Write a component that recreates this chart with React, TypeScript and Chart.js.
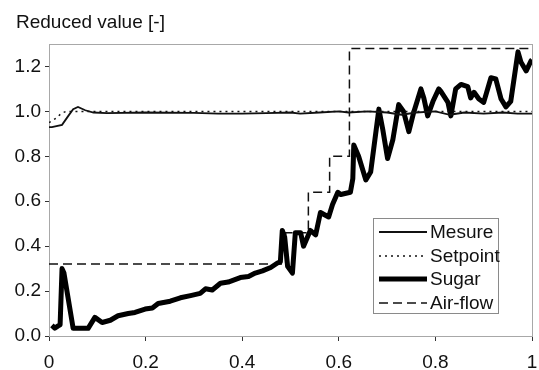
import React, { useEffect, useRef } from "react";
import { Chart, registerables } from "chart.js";

Chart.register(...registerables);

const titleText = "Reduced value [-]";
const legendLabels = ["Mesure", "Setpoint", "Sugar", "Air-flow"];

const sugarX = [0.006, 0.012, 0.019, 0.023, 0.027, 0.031, 0.05, 0.081, 0.095, 0.11, 0.127, 0.143, 0.164, 0.178, 0.199, 0.214, 0.226, 0.251, 0.272, 0.293, 0.313, 0.324, 0.338, 0.355, 0.371, 0.396, 0.413, 0.427, 0.442, 0.459, 0.473, 0.479, 0.483, 0.488, 0.494, 0.504, 0.51, 0.521, 0.527, 0.541, 0.552, 0.562, 0.579, 0.587, 0.598, 0.604, 0.624, 0.629, 0.631, 0.641, 0.656, 0.666, 0.683, 0.691, 0.701, 0.712, 0.724, 0.734, 0.745, 0.755, 0.77, 0.776, 0.784, 0.795, 0.807, 0.811, 0.826, 0.832, 0.842, 0.853, 0.867, 0.873, 0.88, 0.89, 0.9, 0.915, 0.925, 0.936, 0.946, 0.956, 0.971, 0.977, 0.988, 0.998, 1.0];
const sugarY = [0.047, 0.035, 0.045, 0.05, 0.3, 0.28, 0.034, 0.034, 0.083, 0.06, 0.07, 0.09, 0.1, 0.105, 0.12, 0.125, 0.145, 0.155, 0.17, 0.18, 0.19, 0.21, 0.205, 0.235, 0.24, 0.26, 0.265, 0.28, 0.29, 0.305, 0.325, 0.33, 0.47, 0.44, 0.31, 0.28, 0.46, 0.46, 0.4, 0.47, 0.45, 0.55, 0.53, 0.585, 0.64, 0.63, 0.64, 0.7, 0.85, 0.8, 0.695, 0.73, 1.01, 0.92, 0.79, 0.875, 1.03, 1.0, 0.91, 0.995, 1.1, 1.06, 0.98, 1.045, 1.1, 1.09, 1.04, 0.98, 1.1, 1.12, 1.11, 1.06, 1.085, 1.055, 1.04, 1.15, 1.145, 1.055, 1.02, 1.045, 1.265, 1.22, 1.18, 1.225, 1.23];

const mesureX = [0, 0.006, 0.027, 0.04, 0.05, 0.06, 0.075, 0.092, 0.12, 0.2, 0.3, 0.35, 0.4, 0.45, 0.5, 0.52, 0.56, 0.6, 0.62, 0.66, 0.7, 0.73, 0.76, 0.8, 0.83, 0.86, 0.9, 0.94, 0.97, 1.0];
const mesureY = [0.93, 0.93, 0.94, 0.98, 1.01, 1.02, 1.005, 0.995, 0.992, 0.995, 0.993, 0.99, 0.99, 0.992, 0.995, 0.99, 0.995, 1.0, 0.995, 1.0, 0.995, 0.985, 0.995, 1.0, 0.985, 0.995, 0.99, 0.995, 0.99, 0.99];

const setpointX = [0, 0.015, 0.025, 0.035, 1.0];
const setpointY = [0.95, 0.97, 0.99, 1.0, 1.0];

const airX = [0, 0.49, 0.49, 0.537, 0.537, 0.581, 0.581, 0.622, 0.622, 1.0];
const airY = [0.32, 0.32, 0.46, 0.46, 0.64, 0.64, 0.8, 0.8, 1.28, 1.28];

const yMin = 0;
const yMax = 1.3;
const yLastTick = 1.2;
const xMin = 0;
const xMax = 1;
const tickStep = 0.2;

const FONT = "'Liberation Sans', Arial, sans-serif";

function pts(xs: number[], ys: number[]) {
  return xs.map((x, i) => ({ x, y: ys[i] }));
}

export default function App() {
  const ref = useRef<HTMLCanvasElement | null>(null);

  useEffect(() => {
    if (!ref.current) return;

    const framePlugin = {
      id: "frame",
      beforeDatasetsDraw(chart: any) {
        const { ctx, chartArea } = chart;
        ctx.save();
        ctx.strokeStyle = "#a8a8a8";
        ctx.lineWidth = 1;
        ctx.strokeRect(chartArea.left + 0.5, chartArea.top + 0.5, chartArea.right - chartArea.left, chartArea.bottom - chartArea.top);
        ctx.restore();
      },
      afterDraw(chart: any) {
        const { ctx } = chart;
        ctx.save();
        ctx.fillStyle = "#111";
        ctx.font = `19px ${FONT}`;
        ctx.textBaseline = "alphabetic";
        ctx.textAlign = "left";
        ctx.fillText(titleText, 16, 28);
        const bx = 373.5, by = 218.5, bw = 125, bh = 95;
        ctx.fillStyle = "#fff";
        ctx.fillRect(bx, by, bw, bh);
        ctx.strokeStyle = "#8a8a8a";
        ctx.lineWidth = 1;
        ctx.strokeRect(bx, by, bw, bh);
        const rows = [232, 256, 279, 303];
        [0, 1, 2, 3].forEach((di, i) => {
          const ds = chart.data.datasets[di];
          const y = rows[i];
          ctx.beginPath();
          ctx.strokeStyle = ds.borderColor;
          ctx.lineWidth = ds.borderWidth;
          ctx.setLineDash(ds.borderDash || []);
          ctx.moveTo(379, y);
          ctx.lineTo(427, y);
          ctx.stroke();
          ctx.setLineDash([]);
          ctx.fillStyle = "#111";
          ctx.font = `19px ${FONT}`;
          ctx.textBaseline = "middle";
          ctx.fillText(legendLabels[i], 430, y + 1);
        });
        ctx.restore();
      },
    };

    const chart = new Chart(ref.current, {
      type: "line",
      data: {
        datasets: [
          {
            label: legendLabels[0],
            data: pts(mesureX, mesureY),
            borderColor: "#111",
            borderWidth: 1.8,
            pointRadius: 0,
            tension: 0,
            order: 1,
          },
          {
            label: legendLabels[1],
            data: pts(setpointX, setpointY),
            borderColor: "#111",
            borderWidth: 1.5,
            borderDash: [2, 4],
            pointRadius: 0,
            tension: 0,
            order: 0,
          },
          {
            label: legendLabels[2],
            data: pts(sugarX, sugarY),
            borderColor: "#000",
            borderWidth: 5,
            pointRadius: 0,
            tension: 0,
            borderJoinStyle: "round",
            order: 2,
          },
          {
            label: legendLabels[3],
            data: pts(airX, airY),
            borderColor: "#111",
            borderWidth: 1.5,
            borderDash: [9, 5],
            pointRadius: 0,
            tension: 0,
            order: 3,
          },
        ] as any,
      },
      options: {
        animation: false,
        responsive: false,
        maintainAspectRatio: false,
        layout: { padding: { top: 44, right: 7, left: 0, bottom: 0 } },
        plugins: {
          legend: { display: false },
          title: { display: false },
          tooltip: { enabled: false },
        },
        scales: {
          x: {
            type: "linear",
            min: xMin,
            max: xMax,
            afterFit(scale: any) {
              scale.height = 34;
              scale.paddingLeft = 0;
              scale.paddingRight = 0;
            },
            ticks: {
              stepSize: tickStep,
              color: "#111",
              font: { family: FONT, size: 19 },
              padding: 10,
              maxRotation: 0,
              callback: (v: any) => String(Number(Number(v).toFixed(1))),
            },
            grid: { drawOnChartArea: false, drawTicks: true, tickLength: 5, color: "#333" },
            border: { color: "#333", width: 1 },
          },
          y: {
            type: "linear",
            min: yMin,
            max: yMax,
            afterFit(scale: any) {
              scale.width = 49;
            },
            afterBuildTicks(scale: any) {
              scale.ticks = scale.ticks.filter((t: any) => t.value <= yLastTick + 1e-6);
            },
            ticks: {
              stepSize: tickStep,
              color: "#111",
              font: { family: FONT, size: 19 },
              padding: 4,
              callback: (v: any) => Number(v).toFixed(1),
            },
            grid: { drawOnChartArea: false, drawTicks: true, tickLength: 4, color: "#333" },
            border: { color: "#333", width: 1 },
          },
        },
      },
      plugins: [framePlugin],
    } as any);

    return () => chart.destroy();
  }, []);

  return (
    <div style={{ position: "absolute", left: 0, top: 0, width: 539, height: 370, background: "#fff" }}>
      <canvas ref={ref} width={539} height={370} style={{ display: "block" }} />
    </div>
  );
}
